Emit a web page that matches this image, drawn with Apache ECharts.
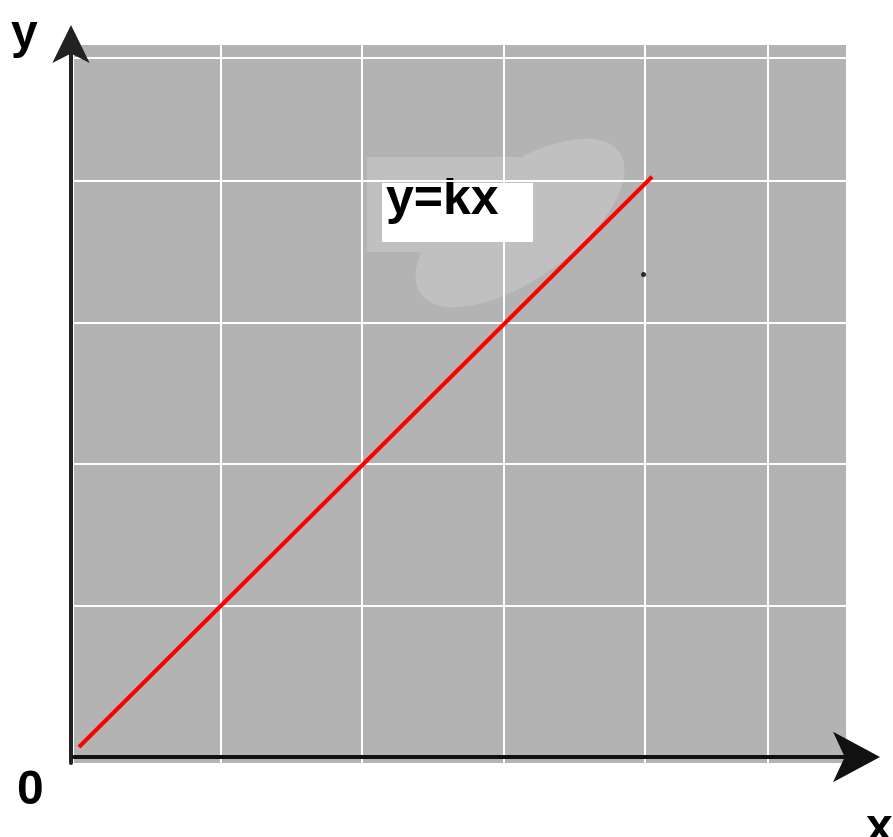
<!DOCTYPE html>
<html>
<head>
<meta charset="utf-8">
<script src="https://cdn.jsdelivr.net/npm/echarts@6/dist/echarts.min.js"></script>
<style>
  html, body { margin: 0; padding: 0; background: #fff; }
  #chart { width: 893px; height: 837px; }
</style>
</head>
<body>
<div id="chart"></div>
<script>
// data
const linePoints = [[0, 0], [4.05, 4.03]];
const dotPoints = [[3.99, 3.34]];
const xGridValues = [1, 2, 3, 4, 4.87];
const yGridValues = [1, 2, 3, 4, 4.87];
const xRange = [-0.0353, 5.4205];
const yRange = [-0.1131, 4.961];
const formulaText = "y=kx";
const xName = "x";
const yName = "y";
const originLabel = "0";

const chart = echarts.init(document.getElementById("chart"));
const font = "'Liberation Sans', Arial, sans-serif";

const gridLines = xGridValues.map(v => ({ xAxis: v }))
  .concat(yGridValues.map(v => ({ yAxis: v })));

const option = {
  animation: false,
  grid: {
    left: 74,
    top: 45,
    right: 47,
    bottom: 74,
    show: true,
    backgroundColor: "#b3b3b3",
    borderWidth: 0,
  },
  xAxis: {
    type: "value",
    min: xRange[0],
    max: xRange[1],
    offset: -6,
    z: 6,
    splitLine: { show: false },
    axisTick: { show: false },
    axisLabel: { show: false },
    axisLine: {
      onZero: false,
      symbol: ["none", "arrow"],
      symbolSize: [38, 47],
      symbolOffset: [0, 34],
      lineStyle: { color: "#111", width: 4 },
    },
  },
  yAxis: {
    type: "value",
    min: yRange[0],
    max: yRange[1],
    offset: 3,
    z: 6,
    splitLine: { show: false },
    axisTick: { show: false },
    axisLabel: { show: false },
    axisLine: {
      onZero: false,
      symbol: ["none", "arrow"],
      symbolSize: [28, 38],
      symbolOffset: [0, 20],
      lineStyle: { color: "#222", width: 4 },
    },
  },
  graphic: [
    // soft highlight behind the formula
    {
      type: "circle",
      z: 2,
      x: 520,
      y: 223,
      rotation: 0.62,
      scaleX: 1.22,
      scaleY: 0.56,
      shape: { cx: 0, cy: 0, r: 100 },
      style: { fill: "#c0c0c0" },
      silent: true,
    },
    {
      type: "rect",
      z: 2,
      shape: { x: 367, y: 157, width: 170, height: 95 },
      style: { fill: "#c0c0c0" },
      silent: true,
    },
    {
      type: "rect",
      z: 3,
      shape: { x: 382, y: 183, width: 151, height: 59 },
      style: { fill: "#fff" },
      silent: true,
    },
    {
      type: "text",
      z: 4,
      x: 386,
      y: 175,
      style: { text: formulaText, font: "bold 50px " + font, fill: "#000" },
    },
    {
      type: "text",
      x: 11,
      y: 11,
      style: { text: yName, font: "bold 48px " + font, fill: "#000" },
    },
    {
      type: "text",
      x: 17,
      y: 767,
      style: { text: originLabel, font: "bold 48px " + font, fill: "#000" },
    },
    {
      type: "text",
      x: 866,
      y: 805,
      style: { text: xName, font: "bold 48px " + font, fill: "#000" },
    },
  ],
  series: [
    {
      // white grid
      type: "line",
      data: [],
      z: 1,
      markLine: {
        silent: true,
        symbol: "none",
        label: { show: false },
        lineStyle: { color: "#fff", width: 2, type: "solid" },
        data: gridLines,
      },
    },
    {
      name: formulaText,
      type: "line",
      z: 5,
      data: linePoints,
      showSymbol: false,
      lineStyle: { color: "#ff0000", width: 4 },
    },
    {
      type: "scatter",
      z: 5,
      data: dotPoints,
      symbolSize: 5,
      itemStyle: { color: "#000" },
    },
  ],
};

chart.setOption(option);
</script>
</body>
</html>
